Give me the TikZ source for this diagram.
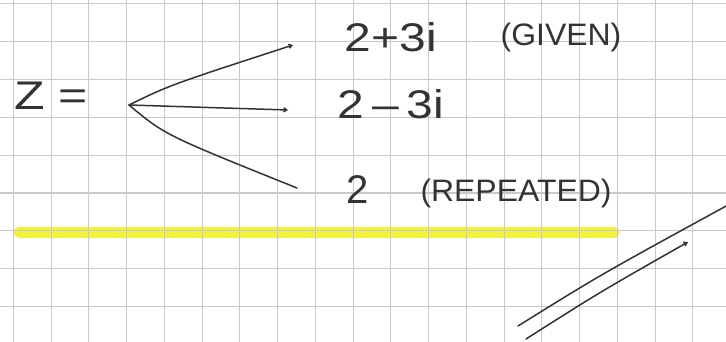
\documentclass[tikz,border=0pt]{standalone}
\usepackage{fontspec}
\setmainfont{Liberation Sans}
\usetikzlibrary{arrows.meta}
\definecolor{ink}{HTML}{333333}
\definecolor{gridc}{HTML}{C9C9C9}
\definecolor{hl}{HTML}{F2F23C}
\begin{document}
\begin{tikzpicture}[x=1pt,y=-1pt,
  pen/.style={draw=ink,line width=1.5pt,line cap=round},
  tip/.style={-{Straight Barb[length=3pt,width=4pt]}},
  hand/.style={text=ink,inner sep=0pt,font=\fontsize{40}{40}\selectfont},
  note/.style={text=ink,inner sep=0pt,font=\fontsize{31}{31}\selectfont}]
\useasboundingbox (0,0) rectangle (726,342);
\fill[white] (0,0) rectangle (726,342);
% highlight
\draw[hl,line width=11pt,line cap=round] (19,232) -- (614,232);
% grid
\foreach \i in {0,...,19} {
  \draw[gridc,line width=1.1pt] ({13.3+37.75*\i},0) -- ({13.3+37.75*\i},342);
}
\foreach \j in {0,...,9} {
  \draw[gridc,line width=1.1pt] (0,{3.5+37.9*\j}) -- (726,{3.5+37.9*\j});
}
% texts
\node[hand,xscale=1.25] (z) at (51,96) {Z =};
\node[hand,xscale=1.2] (r1) at (391,37) {2+3i};
\node[hand,xscale=1.2] (r2) at (391,104) {2\,–\,3i};
\node[hand] (r3) at (358,190) {2};
\node[note,xscale=1.03] (n1) at (561,37) {(GIVEN)};
\node[note,xscale=1.03] (n2) at (516,193) {(REPEATED)};
% fork
\coordinate (o) at (129,105);
\coordinate (e1) at (293,45);
\coordinate (e2) at (288,110);
\coordinate (e3) at (297,188);
\draw[pen,tip] (o) .. controls (170,85) .. (e1);
\draw[pen,tip] (o) -- (e2);
\draw[pen] (o) .. controls (165,135) .. (e3);
% diagonal strokes
\coordinate (d1a) at (518,326);
\coordinate (d1b) at (728,205);
\coordinate (d2a) at (526,339);
\coordinate (d2b) at (688,242);
\draw[pen] (d1a) .. controls (600,275) .. (d1b);
\draw[pen,tip] (d2a) .. controls (600,292) .. (d2b);
\end{tikzpicture}
\end{document}
